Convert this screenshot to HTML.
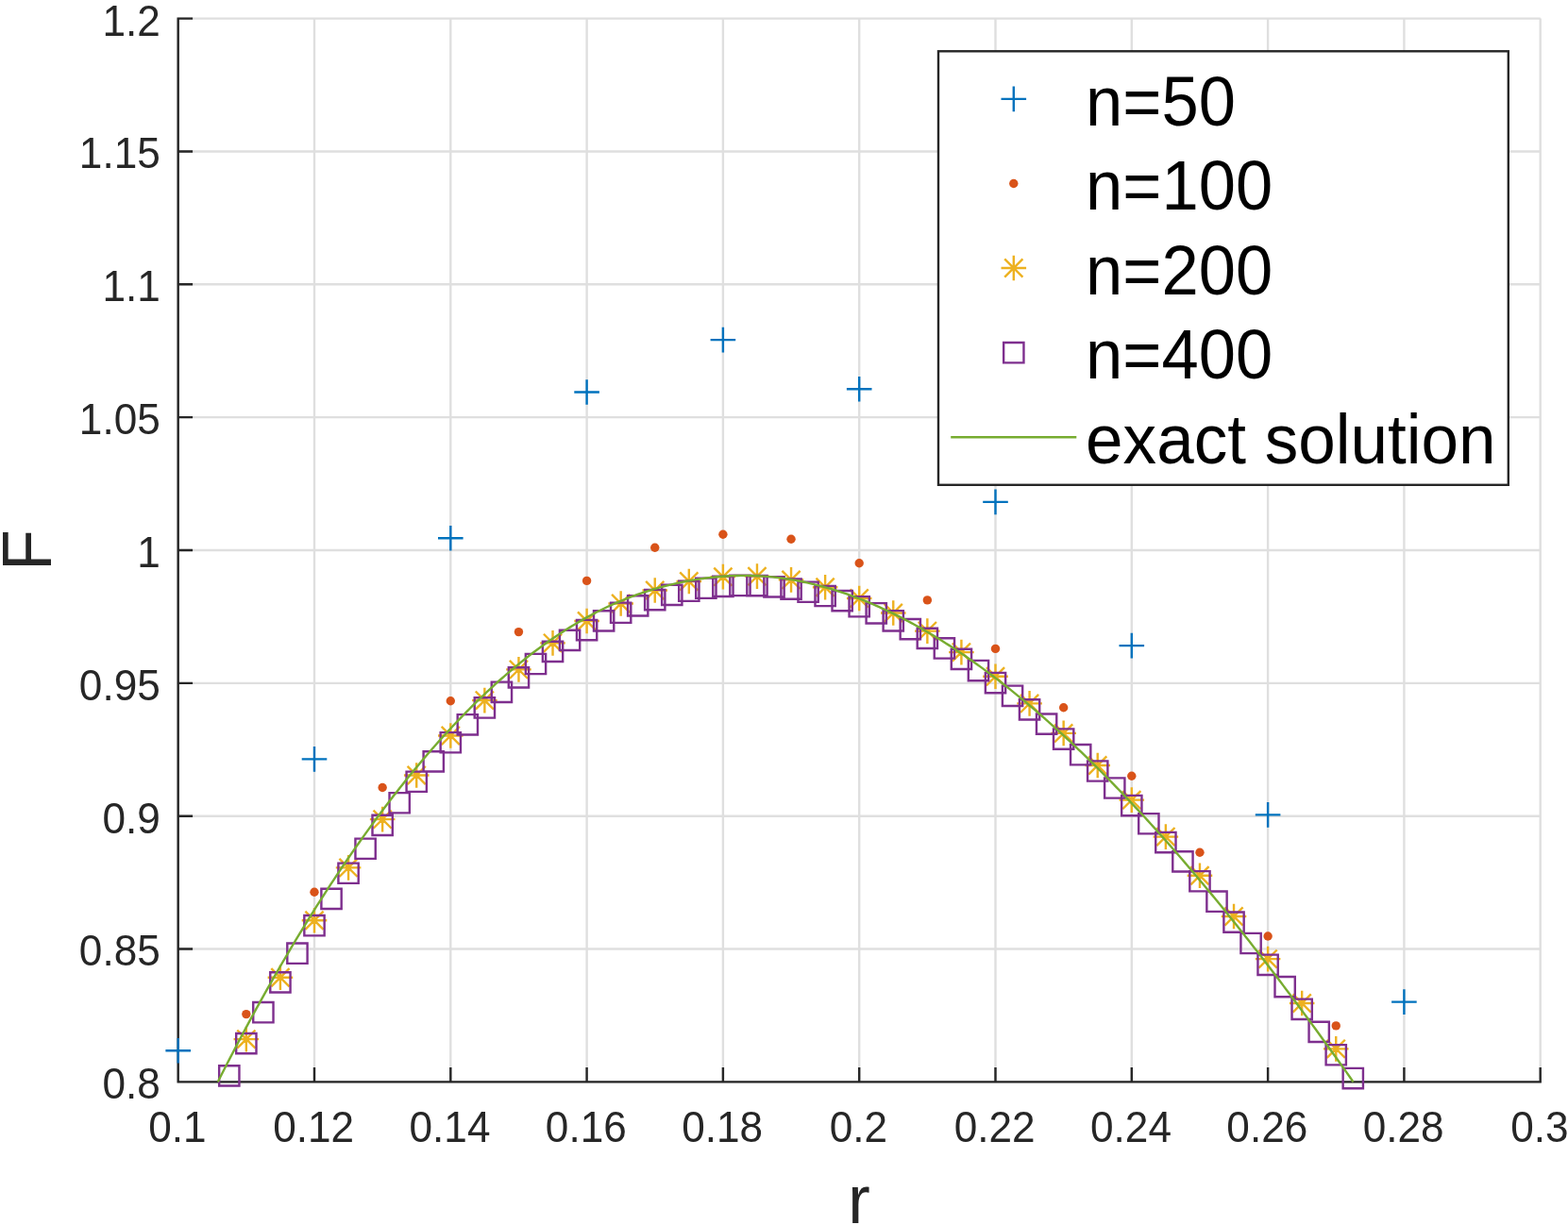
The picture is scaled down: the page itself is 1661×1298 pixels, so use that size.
<!DOCTYPE html>
<html lang="en"><head><meta charset="utf-8"><title>F vs r</title>
<style>
html,body{margin:0;padding:0;background:#fff;}
body{width:1661px;height:1298px;overflow:hidden;font-family:"Liberation Sans",sans-serif;}
svg{display:block;}
</style></head><body>
<svg width="1661" height="1298" viewBox="0 0 1661 1298" font-family="'Liberation Sans', sans-serif">
<rect width="1661" height="1298" fill="#fff"/>
<path d="M188.7 19.6V1146.4M333 19.6V1146.4M477.3 19.6V1146.4M621.6 19.6V1146.4M765.9 19.6V1146.4M910.2 19.6V1146.4M1054.5 19.6V1146.4M1198.8 19.6V1146.4M1343.1 19.6V1146.4M1487.4 19.6V1146.4M1631.7 19.6V1146.4M188.7 1146.4H1631.7M188.7 1005.55H1631.7M188.7 864.7H1631.7M188.7 723.85H1631.7M188.7 583H1631.7M188.7 442.15H1631.7M188.7 301.3H1631.7M188.7 160.45H1631.7M188.7 19.6H1631.7" stroke="#dfdfdf" stroke-width="2.4" fill="none"/>
<path d="M188.7 18.4V1146.4H1632.9M188.7 1146.4v-15.4M333 1146.4v-15.4M477.3 1146.4v-15.4M621.6 1146.4v-15.4M765.9 1146.4v-15.4M910.2 1146.4v-15.4M1054.5 1146.4v-15.4M1198.8 1146.4v-15.4M1343.1 1146.4v-15.4M1487.4 1146.4v-15.4M1631.7 1146.4v-15.4M188.7 1146.4h15.4M188.7 1005.55h15.4M188.7 864.7h15.4M188.7 723.85h15.4M188.7 583h15.4M188.7 442.15h15.4M188.7 301.3h15.4M188.7 160.45h15.4M188.7 19.6h15.4" stroke="#262626" stroke-width="2.4" fill="none" stroke-linejoin="miter"/>
<g font-size="46" fill="#262626" text-anchor="middle">
<text transform="translate(187.9 1210.4) scale(0.96 1)">0.1</text>
<text transform="translate(332.2 1210.4) scale(0.96 1)">0.12</text>
<text transform="translate(476.5 1210.4) scale(0.96 1)">0.14</text>
<text transform="translate(620.8 1210.4) scale(0.96 1)">0.16</text>
<text transform="translate(765.1 1210.4) scale(0.96 1)">0.18</text>
<text transform="translate(909.4 1210.4) scale(0.96 1)">0.2</text>
<text transform="translate(1053.7 1210.4) scale(0.96 1)">0.22</text>
<text transform="translate(1198 1210.4) scale(0.96 1)">0.24</text>
<text transform="translate(1342.3 1210.4) scale(0.96 1)">0.26</text>
<text transform="translate(1486.6 1210.4) scale(0.96 1)">0.28</text>
<text transform="translate(1630.9 1210.4) scale(0.96 1)">0.3</text>
</g>
<g font-size="46" fill="#262626" text-anchor="end">
<text transform="translate(169.8 1164.3) scale(0.96 1)">0.8</text>
<text transform="translate(169.8 1023.45) scale(0.96 1)">0.85</text>
<text transform="translate(169.8 882.6) scale(0.96 1)">0.9</text>
<text transform="translate(169.8 741.75) scale(0.96 1)">0.95</text>
<text transform="translate(169.8 600.9) scale(0.96 1)">1</text>
<text transform="translate(169.8 460.05) scale(0.96 1)">1.05</text>
<text transform="translate(169.8 319.2) scale(0.96 1)">1.1</text>
<text transform="translate(169.8 178.35) scale(0.96 1)">1.15</text>
<text transform="translate(169.8 37.5) scale(0.96 1)">1.2</text>
</g>
<text transform="translate(909.9 1295.7) scale(0.985 1)" font-size="71.6" fill="#262626" text-anchor="middle">r</text>
<text transform="translate(54.3 583) rotate(-90) scale(0.966 1)" font-size="74.5" fill="#262626" text-anchor="middle">F</text>
<path d="M175.4 1113.3h26.6M188.7 1100v26.6M319.7 804.4h26.6M333 791.1v26.6M464 570.2h26.6M477.3 556.9v26.6M608.3 415.5h26.6M621.6 402.2v26.6M752.6 360.1h26.6M765.9 346.8v26.6M896.9 412.2h26.6M910.2 398.9v26.6M1041.2 531.9h26.6M1054.5 518.6v26.6M1185.5 684.1h26.6M1198.8 670.8v26.6M1329.8 863.4h26.6M1343.1 850.1v26.6M1474.1 1061.6h26.6M1487.4 1048.3v26.6" stroke="#0072BD" stroke-width="2.4" fill="none"/>
<g fill="#D95319"><circle cx="260.85" cy="1074.6" r="4.7"/><circle cx="333" cy="945.3" r="4.7"/><circle cx="405.15" cy="834.5" r="4.7"/><circle cx="477.3" cy="742.8" r="4.7"/><circle cx="549.45" cy="669.6" r="4.7"/><circle cx="621.6" cy="615.4" r="4.7"/><circle cx="693.75" cy="580.2" r="4.7"/><circle cx="765.9" cy="566.3" r="4.7"/><circle cx="838.05" cy="571.25" r="4.7"/><circle cx="910.2" cy="596.7" r="4.7"/><circle cx="982.35" cy="635.9" r="4.7"/><circle cx="1054.5" cy="687.4" r="4.7"/><circle cx="1126.65" cy="749.7" r="4.7"/><circle cx="1198.8" cy="822.3" r="4.7"/><circle cx="1270.95" cy="903.2" r="4.7"/><circle cx="1343.1" cy="992" r="4.7"/><circle cx="1415.25" cy="1086.9" r="4.7"/></g>
<path d="M247.55 1101.1h26.6M260.85 1087.8v26.6M251.25 1091.5l19.2 19.2M251.25 1110.7l19.2 -19.2M283.62 1035.77h26.6M296.92 1022.47v26.6M287.32 1026.17l19.2 19.2M287.32 1045.37l19.2 -19.2M319.7 975.24h26.6M333 961.94v26.6M323.4 965.64l19.2 19.2M323.4 984.84l19.2 -19.2M355.77 919.39h26.6M369.07 906.09v26.6M359.47 909.79l19.2 19.2M359.47 928.99l19.2 -19.2M391.85 868.15h26.6M405.15 854.85v26.6M395.55 858.55l19.2 19.2M395.55 877.75l19.2 -19.2M427.93 821.51h26.6M441.23 808.21v26.6M431.62 811.91l19.2 19.2M431.62 831.11l19.2 -19.2M464 779.48h26.6M477.3 766.18v26.6M467.7 769.88l19.2 19.2M467.7 789.08l19.2 -19.2M500.07 742.1h26.6M513.37 728.8v26.6M503.77 732.5l19.2 19.2M503.77 751.7l19.2 -19.2M536.15 709.39h26.6M549.45 696.09v26.6M539.85 699.79l19.2 19.2M539.85 718.99l19.2 -19.2M572.22 681.37h26.6M585.52 668.07v26.6M575.92 671.77l19.2 19.2M575.92 690.97l19.2 -19.2M608.3 658.06h26.6M621.6 644.76v26.6M612 648.46l19.2 19.2M612 667.66l19.2 -19.2M644.38 639.43h26.6M657.67 626.13v26.6M648.07 629.83l19.2 19.2M648.07 649.03l19.2 -19.2M680.45 625.45h26.6M693.75 612.15v26.6M684.15 615.85l19.2 19.2M684.15 635.05l19.2 -19.2M716.52 616.05h26.6M729.82 602.75v26.6M720.22 606.45l19.2 19.2M720.22 625.65l19.2 -19.2M752.6 611.16h26.6M765.9 597.86v26.6M756.3 601.56l19.2 19.2M756.3 620.76l19.2 -19.2M788.67 610.65h26.6M801.97 597.35v26.6M792.37 601.05l19.2 19.2M792.37 620.25l19.2 -19.2M824.75 614.39h26.6M838.05 601.09v26.6M828.45 604.79l19.2 19.2M828.45 623.99l19.2 -19.2M860.83 622.23h26.6M874.12 608.93v26.6M864.52 612.63l19.2 19.2M864.52 631.83l19.2 -19.2M896.9 634.01h26.6M910.2 620.71v26.6M900.6 624.41l19.2 19.2M900.6 643.61l19.2 -19.2M932.97 649.53h26.6M946.27 636.23v26.6M936.67 639.93l19.2 19.2M936.67 659.13l19.2 -19.2M969.05 668.62h26.6M982.35 655.32v26.6M972.75 659.02l19.2 19.2M972.75 678.22l19.2 -19.2M1005.12 691.09h26.6M1018.42 677.79v26.6M1008.82 681.49l19.2 19.2M1008.82 700.69l19.2 -19.2M1041.2 716.74h26.6M1054.5 703.44v26.6M1044.9 707.14l19.2 19.2M1044.9 726.34l19.2 -19.2M1077.28 745.4h26.6M1090.58 732.1v26.6M1080.98 735.8l19.2 19.2M1080.98 755l19.2 -19.2M1113.35 776.88h26.6M1126.65 763.58v26.6M1117.05 767.28l19.2 19.2M1117.05 786.48l19.2 -19.2M1149.42 811.01h26.6M1162.72 797.71v26.6M1153.12 801.41l19.2 19.2M1153.12 820.61l19.2 -19.2M1185.5 847.63h26.6M1198.8 834.33v26.6M1189.2 838.03l19.2 19.2M1189.2 857.23l19.2 -19.2M1221.57 886.6h26.6M1234.87 873.3v26.6M1225.27 877l19.2 19.2M1225.27 896.2l19.2 -19.2M1257.65 927.76h26.6M1270.95 914.46v26.6M1261.35 918.16l19.2 19.2M1261.35 937.36l19.2 -19.2M1293.72 970.97h26.6M1307.02 957.67v26.6M1297.42 961.37l19.2 19.2M1297.42 980.57l19.2 -19.2M1329.8 1016.08h26.6M1343.1 1002.78v26.6M1333.5 1006.48l19.2 19.2M1333.5 1025.68l19.2 -19.2M1365.88 1062.93h26.6M1379.17 1049.63v26.6M1369.58 1053.33l19.2 19.2M1369.58 1072.53l19.2 -19.2M1401.95 1111.33h26.6M1415.25 1098.03v26.6M1405.65 1101.73l19.2 19.2M1405.65 1120.93l19.2 -19.2" stroke="#EDB120" stroke-width="2.4" fill="none"/>
<path d="M232.16 1129.18h21.3v21.3h-21.3zM250.2 1095.02h21.3v21.3h-21.3zM268.24 1062.03h21.3v21.3h-21.3zM286.27 1030.22h21.3v21.3h-21.3zM304.31 999.56h21.3v21.3h-21.3zM322.35 970.07h21.3v21.3h-21.3zM340.39 941.75h21.3v21.3h-21.3zM358.42 914.58h21.3v21.3h-21.3zM376.46 888.59h21.3v21.3h-21.3zM394.5 863.76h21.3v21.3h-21.3zM412.54 840.09h21.3v21.3h-21.3zM430.58 817.6h21.3v21.3h-21.3zM448.61 796.27h21.3v21.3h-21.3zM466.65 776.12h21.3v21.3h-21.3zM484.69 757.13h21.3v21.3h-21.3zM502.72 739.31h21.3v21.3h-21.3zM520.76 722.67h21.3v21.3h-21.3zM538.8 707.19h21.3v21.3h-21.3zM556.84 692.87h21.3v21.3h-21.3zM574.87 679.72h21.3v21.3h-21.3zM592.91 667.72h21.3v21.3h-21.3zM610.95 656.88h21.3v21.3h-21.3zM628.99 647.18h21.3v21.3h-21.3zM647.02 638.62h21.3v21.3h-21.3zM665.06 631.19h21.3v21.3h-21.3zM683.1 624.88h21.3v21.3h-21.3zM701.14 619.68h21.3v21.3h-21.3zM719.17 615.59h21.3v21.3h-21.3zM737.21 612.58h21.3v21.3h-21.3zM755.25 610.65h21.3v21.3h-21.3zM773.29 609.78h21.3v21.3h-21.3zM791.32 609.95h21.3v21.3h-21.3zM809.36 611.16h21.3v21.3h-21.3zM827.4 613.39h21.3v21.3h-21.3zM845.44 616.62h21.3v21.3h-21.3zM863.48 620.83h21.3v21.3h-21.3zM881.51 626h21.3v21.3h-21.3zM899.55 632.12h21.3v21.3h-21.3zM917.59 639.17h21.3v21.3h-21.3zM935.62 647.14h21.3v21.3h-21.3zM953.66 655.99h21.3v21.3h-21.3zM971.7 665.71h21.3v21.3h-21.3zM989.74 676.28h21.3v21.3h-21.3zM1007.77 687.68h21.3v21.3h-21.3zM1025.81 699.9h21.3v21.3h-21.3zM1043.85 712.9h21.3v21.3h-21.3zM1061.89 726.67h21.3v21.3h-21.3zM1079.92 741.2h21.3v21.3h-21.3zM1097.96 756.45h21.3v21.3h-21.3zM1116 772.41h21.3v21.3h-21.3zM1134.04 789.06h21.3v21.3h-21.3zM1152.07 806.37h21.3v21.3h-21.3zM1170.11 824.33h21.3v21.3h-21.3zM1188.15 842.92h21.3v21.3h-21.3zM1206.19 862.12h21.3v21.3h-21.3zM1224.22 881.89h21.3v21.3h-21.3zM1242.26 902.24h21.3v21.3h-21.3zM1260.3 923.12h21.3v21.3h-21.3zM1278.34 944.53h21.3v21.3h-21.3zM1296.37 966.44h21.3v21.3h-21.3zM1314.41 988.83h21.3v21.3h-21.3zM1332.45 1011.67h21.3v21.3h-21.3zM1350.49 1034.95h21.3v21.3h-21.3zM1368.52 1058.63h21.3v21.3h-21.3zM1386.56 1082.7h21.3v21.3h-21.3zM1404.6 1107.12h21.3v21.3h-21.3zM1422.64 1131.88h21.3v21.3h-21.3z" stroke="#7E2F8E" stroke-width="2.4" fill="none"/>
<polyline points="230.75,1146.4 231.17,1145.55 234.23,1139.51 237.29,1133.5 240.35,1127.54 243.4,1121.61 246.46,1115.72 249.52,1109.87 252.58,1104.06 255.63,1098.28 258.69,1092.54 261.75,1086.84 264.81,1081.17 267.86,1075.54 270.92,1069.95 273.98,1064.4 277.04,1058.88 280.1,1053.39 283.15,1047.95 286.21,1042.54 289.27,1037.16 292.33,1031.82 295.38,1026.51 298.44,1021.24 301.5,1016.01 304.56,1010.81 307.61,1005.64 310.67,1000.51 313.73,995.42 316.79,990.36 319.84,985.33 322.9,980.34 325.96,975.38 329.02,970.46 332.08,965.57 335.13,960.71 338.19,955.89 341.25,951.1 344.31,946.35 347.36,941.63 350.42,936.94 353.48,932.29 356.54,927.67 359.59,923.09 362.65,918.54 365.71,914.02 368.77,909.54 371.82,905.09 374.88,900.67 377.94,896.29 381,891.94 384.06,887.62 387.11,883.33 390.17,879.08 393.23,874.87 396.29,870.68 399.34,866.53 402.4,862.42 405.46,858.33 408.52,854.28 411.57,850.26 414.63,846.28 417.69,842.33 420.75,838.41 423.8,834.53 426.86,830.67 429.92,826.86 432.98,823.07 436.04,819.32 439.09,815.6 442.15,811.92 445.21,808.26 448.27,804.64 451.32,801.06 454.38,797.51 457.44,793.99 460.5,790.5 463.55,787.05 466.61,783.63 469.67,780.24 472.73,776.89 475.78,773.57 478.84,770.28 481.9,767.03 484.96,763.81 488.02,760.62 491.07,757.47 494.13,754.35 497.19,751.26 500.25,748.21 503.3,745.19 506.36,742.2 509.42,739.25 512.48,736.33 515.53,733.44 518.59,730.59 521.65,727.77 524.71,724.98 527.76,722.23 530.82,719.51 533.88,716.82 536.94,714.17 539.99,711.55 543.05,708.97 546.11,706.42 549.17,703.9 552.23,701.41 555.28,698.96 558.34,696.55 561.4,694.16 564.46,691.81 567.51,689.5 570.57,687.22 573.63,684.97 576.69,682.75 579.74,680.57 582.8,678.43 585.86,676.32 588.92,674.24 591.97,672.2 595.03,670.19 598.09,668.21 601.15,666.27 604.21,664.37 607.26,662.5 610.32,660.66 613.38,658.86 616.44,657.1 619.49,655.37 622.55,653.67 625.61,652.01 628.67,650.39 631.72,648.8 634.78,647.24 637.84,645.72 640.9,644.24 643.95,642.79 647.01,641.37 650.07,639.99 653.13,638.65 656.19,637.34 659.24,636.06 662.3,634.82 665.36,633.61 668.42,632.43 671.47,631.29 674.53,630.18 677.59,629.1 680.65,628.06 683.7,627.05 686.76,626.06 689.82,625.11 692.88,624.19 695.93,623.3 698.99,622.45 702.05,621.61 705.11,620.81 708.17,620.04 711.22,619.3 714.28,618.58 717.34,617.9 720.4,617.24 723.45,616.6 726.51,616 729.57,615.42 732.63,614.88 735.68,614.36 738.74,613.86 741.8,613.4 744.86,612.96 747.91,612.55 750.97,612.17 754.03,611.82 757.09,611.49 760.15,611.2 763.2,610.93 766.26,610.7 769.32,610.49 772.38,610.31 775.43,610.17 778.49,610.05 781.55,609.97 784.61,609.92 787.66,609.89 790.72,609.9 793.78,609.94 796.84,610.02 799.89,610.12 802.95,610.26 806.01,610.42 809.07,610.62 812.13,610.86 815.18,611.12 818.24,611.41 821.3,611.74 824.36,612.1 827.41,612.49 830.47,612.91 833.53,613.36 836.59,613.84 839.64,614.36 842.7,614.9 845.76,615.48 848.82,616.08 851.87,616.72 854.93,617.38 857.99,618.08 861.05,618.8 864.11,619.55 867.16,620.34 870.22,621.15 873.28,621.99 876.34,622.86 879.39,623.75 882.45,624.68 885.51,625.63 888.57,626.61 891.62,627.62 894.68,628.66 897.74,629.72 900.8,630.81 903.85,631.93 906.91,633.08 909.97,634.25 913.03,635.45 916.09,636.68 919.14,637.93 922.2,639.21 925.26,640.52 928.32,641.85 931.37,643.21 934.43,644.59 937.49,646 940.55,647.44 943.6,648.9 946.66,650.39 949.72,651.9 952.78,653.44 955.83,655.01 958.89,656.6 961.95,658.21 965.01,659.85 968.07,661.51 971.12,663.2 974.18,664.92 977.24,666.65 980.3,668.42 983.35,670.2 986.41,672.01 989.47,673.85 992.53,675.71 995.58,677.59 998.64,679.5 1001.7,681.43 1004.76,683.38 1007.81,685.36 1010.87,687.36 1013.93,689.38 1016.99,691.43 1020.05,693.5 1023.1,695.59 1026.16,697.71 1029.22,699.85 1032.28,702.01 1035.33,704.19 1038.39,706.4 1041.45,708.63 1044.51,710.88 1047.56,713.15 1050.62,715.45 1053.68,717.76 1056.74,720.1 1059.79,722.46 1062.85,724.84 1065.91,727.25 1068.97,729.67 1072.03,732.12 1075.08,734.58 1078.14,737.07 1081.2,739.58 1084.26,742.11 1087.31,744.66 1090.37,747.24 1093.43,749.83 1096.49,752.44 1099.54,755.07 1102.6,757.73 1105.66,760.4 1108.72,763.1 1111.77,765.81 1114.83,768.54 1117.89,771.3 1120.95,774.07 1124.01,776.87 1127.06,779.68 1130.12,782.51 1133.18,785.36 1136.24,788.23 1139.29,791.13 1142.35,794.03 1145.41,796.96 1148.47,799.91 1151.52,802.88 1154.58,805.86 1157.64,808.87 1160.7,811.89 1163.75,814.93 1166.81,817.99 1169.87,821.07 1172.93,824.17 1175.98,827.28 1179.04,830.41 1182.1,833.56 1185.16,836.73 1188.22,839.92 1191.27,843.12 1194.33,846.34 1197.39,849.58 1200.45,852.84 1203.5,856.12 1206.56,859.41 1209.62,862.72 1212.68,866.04 1215.73,869.39 1218.79,872.75 1221.85,876.12 1224.91,879.52 1227.96,882.93 1231.02,886.36 1234.08,889.8 1237.14,893.26 1240.2,896.74 1243.25,900.24 1246.31,903.75 1249.37,907.27 1252.43,910.82 1255.48,914.38 1258.54,917.95 1261.6,921.54 1264.66,925.15 1267.71,928.77 1270.77,932.41 1273.83,936.06 1276.89,939.73 1279.94,943.42 1283,947.12 1286.06,950.83 1289.12,954.56 1292.18,958.31 1295.23,962.07 1298.29,965.85 1301.35,969.64 1304.41,973.44 1307.46,977.26 1310.52,981.1 1313.58,984.95 1316.64,988.81 1319.69,992.69 1322.75,996.58 1325.81,1000.49 1328.87,1004.41 1331.92,1008.34 1334.98,1012.29 1338.04,1016.25 1341.1,1020.23 1344.16,1024.22 1347.21,1028.22 1350.27,1032.24 1353.33,1036.27 1356.39,1040.31 1359.44,1044.36 1362.5,1048.43 1365.56,1052.52 1368.62,1056.61 1371.67,1060.72 1374.73,1064.84 1377.79,1068.97 1380.85,1073.11 1383.9,1077.27 1386.96,1081.44 1390.02,1085.62 1393.08,1089.81 1396.14,1094.01 1399.19,1098.23 1402.25,1102.46 1405.31,1106.69 1408.37,1110.94 1411.42,1115.2 1414.48,1119.47 1417.54,1123.75 1420.6,1128.05 1423.65,1132.35 1426.71,1136.66 1429.77,1140.98 1432.83,1145.32 1433.59,1146.4" stroke="#77AC30" stroke-width="2.4" fill="none" stroke-linejoin="round"/>
<rect x="994.0" y="54.3" width="603.8" height="459.5" fill="#fff" stroke="#262626" stroke-width="2.4"/>
<path d="M1060.5 104.9h26.6M1073.8 91.6v26.6" stroke="#0072BD" stroke-width="2.4" fill="none"/>
<circle cx="1073.8" cy="194.5" r="4.7" fill="#D95319"/>
<path d="M1060.5 284.05h26.6M1073.8 270.75v26.6M1064.2 274.45l19.2 19.2M1064.2 293.65l19.2 -19.2" stroke="#EDB120" stroke-width="2.4" fill="none"/>
<path d="M1063.15 363.05h21.3v21.3h-21.3z" stroke="#7E2F8E" stroke-width="2.4" fill="none"/>
<path d="M1007.2 463.3H1140.3" stroke="#77AC30" stroke-width="2.4" fill="none"/>
<g font-size="73.3" fill="#000">
<text transform="translate(1150.1 132.6) scale(0.962 1)">n=50</text>
<text transform="translate(1150.1 222.2) scale(0.962 1)">n=100</text>
<text transform="translate(1150.1 311.75) scale(0.962 1)">n=200</text>
<text transform="translate(1150.1 401.4) scale(0.962 1)">n=400</text>
<text transform="translate(1150.1 491) scale(0.9695 1)">exact solution</text>
</g>
</svg>
</body></html>
